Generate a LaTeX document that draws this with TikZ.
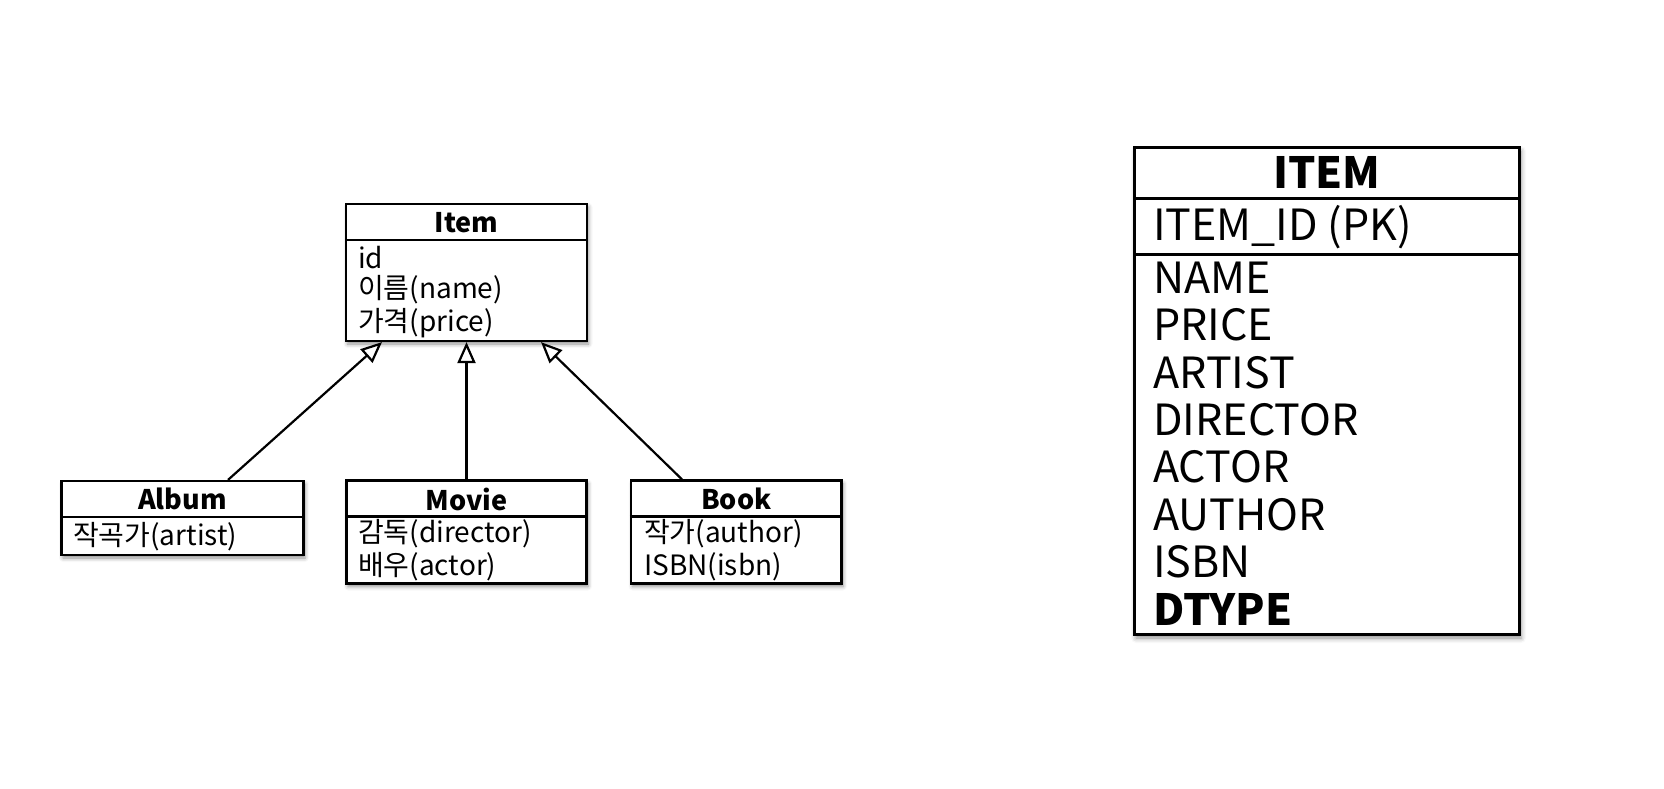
\documentclass[tikz,border=0pt]{standalone}
\usepackage{fontspec}
\setmainfont{Noto Sans CJK KR}
\usetikzlibrary{arrows.meta,shadows.blur,calc}
\begin{document}
\begin{tikzpicture}[x=1pt,y=-1pt,
  classbox/.style={draw=black, line width=2.2pt, fill=white, inner sep=0pt,
    blur shadow={shadow xshift=1.5pt, shadow yshift=-3pt, shadow blur radius=4pt, shadow opacity=45}},
  tablebox/.style={draw=black, line width=3pt, fill=white, inner sep=0pt,
    blur shadow={shadow xshift=1.5pt, shadow yshift=-4pt, shadow blur radius=5pt, shadow opacity=45}},
  sep/.style={line width=2.2pt},
  tsep/.style={line width=3pt},
  ctitle/.style={inner sep=0pt, font=\fontsize{27}{32}\selectfont\bfseries},
  cattr/.style={inner sep=0pt, anchor=west, font=\fontsize{28}{32}\selectfont},
  ttitle/.style={inner sep=0pt, font=\fontsize{43}{48}\selectfont\bfseries},
  tattr/.style={inner sep=0pt, anchor=west, font=\fontsize{43}{48}\selectfont},
  gen/.style={line width=2.2pt, -{Triangle[open, length=21pt, width=18pt, fill=white]}}
]
\useasboundingbox (0,0) rectangle (1664,788);

% Item class
\node[classbox, minimum width=241pt, minimum height=137pt] (item) at (466.5,272.5) {};
\draw[sep] ([yshift=-37pt]item.north west) -- ([yshift=-37pt]item.north east);
\node[ctitle] (itemT) at (466.5,223) {Item};
\node[cattr] (itemA1) at (358,258) {id};
\node[cattr] (itemA2) at (358,290) {이름(name)};
\node[cattr] (itemA3) at (358,323) {가격(price)};

% Album
\node[classbox, minimum width=242pt, minimum height=74pt] (album) at (182.5,518) {};
\draw[sep] ([yshift=-37pt]album.north west) -- ([yshift=-37pt]album.north east);
\node[ctitle] (albumT) at (182.5,499) {Album};
\node[cattr] (albumA1) at (73,537) {작곡가(artist)};

% Movie
\node[classbox, minimum width=240pt, minimum height=103pt] (movie) at (466.5,532) {};
\draw[sep] ([yshift=-37pt]movie.north west) -- ([yshift=-37pt]movie.north east);
\node[ctitle] (movieT) at (466.5,499) {Movie};
\node[cattr] (movieA1) at (358,534) {감독(director)};
\node[cattr] (movieA2) at (358,567) {배우(actor)};

% Book
\node[classbox, minimum width=210.5pt, minimum height=103pt] (book) at (736.25,532) {};
\draw[sep] ([yshift=-37pt]book.north west) -- ([yshift=-37pt]book.north east);
\node[ctitle] (bookT) at (736.25,499) {Book};
\node[cattr] (bookA1) at (644,534) {작가(author)};
\node[cattr] (bookA2) at (644,567) {ISBN(isbn)};

% generalization arrows
\draw[gen] ($(album.north)+(45.5,0)$) -- ($(item.south)+(-84.5,0)$);
\draw[gen] (movie.north) -- (item.south);
\draw[gen] ($(book.north)+(-54.25,0)$) -- ($(item.south)+(74.5,0)$);

% ITEM table
\node[tablebox, minimum width=385pt, minimum height=487pt] (tbl) at (1327,390.5) {};
\draw[tsep] ([yshift=-53pt]tbl.north west) -- ([yshift=-53pt]tbl.north east);
\draw[tsep] ([yshift=-109pt]tbl.north west) -- ([yshift=-109pt]tbl.north east);
\node[ttitle] (tblT) at (1327,172) {ITEM};
\node[tattr] (pk) at (1153,227) {ITEM\_ID (PK)};
\node[tattr] (c1) at (1153,278) {NAME};
\node[tattr] (c2) at (1153,325) {PRICE};
\node[tattr] (c3) at (1153,372.5) {ARTIST};
\node[tattr] (c4) at (1153,420) {DIRECTOR};
\node[tattr] (c5) at (1153,467) {ACTOR};
\node[tattr] (c6) at (1153,515) {AUTHOR};
\node[tattr] (c7) at (1153,562) {ISBN};
\node[tattr, font=\fontsize{43}{48}\selectfont\bfseries] (c8) at (1153,609) {DTYPE};
\end{tikzpicture}
\end{document}
